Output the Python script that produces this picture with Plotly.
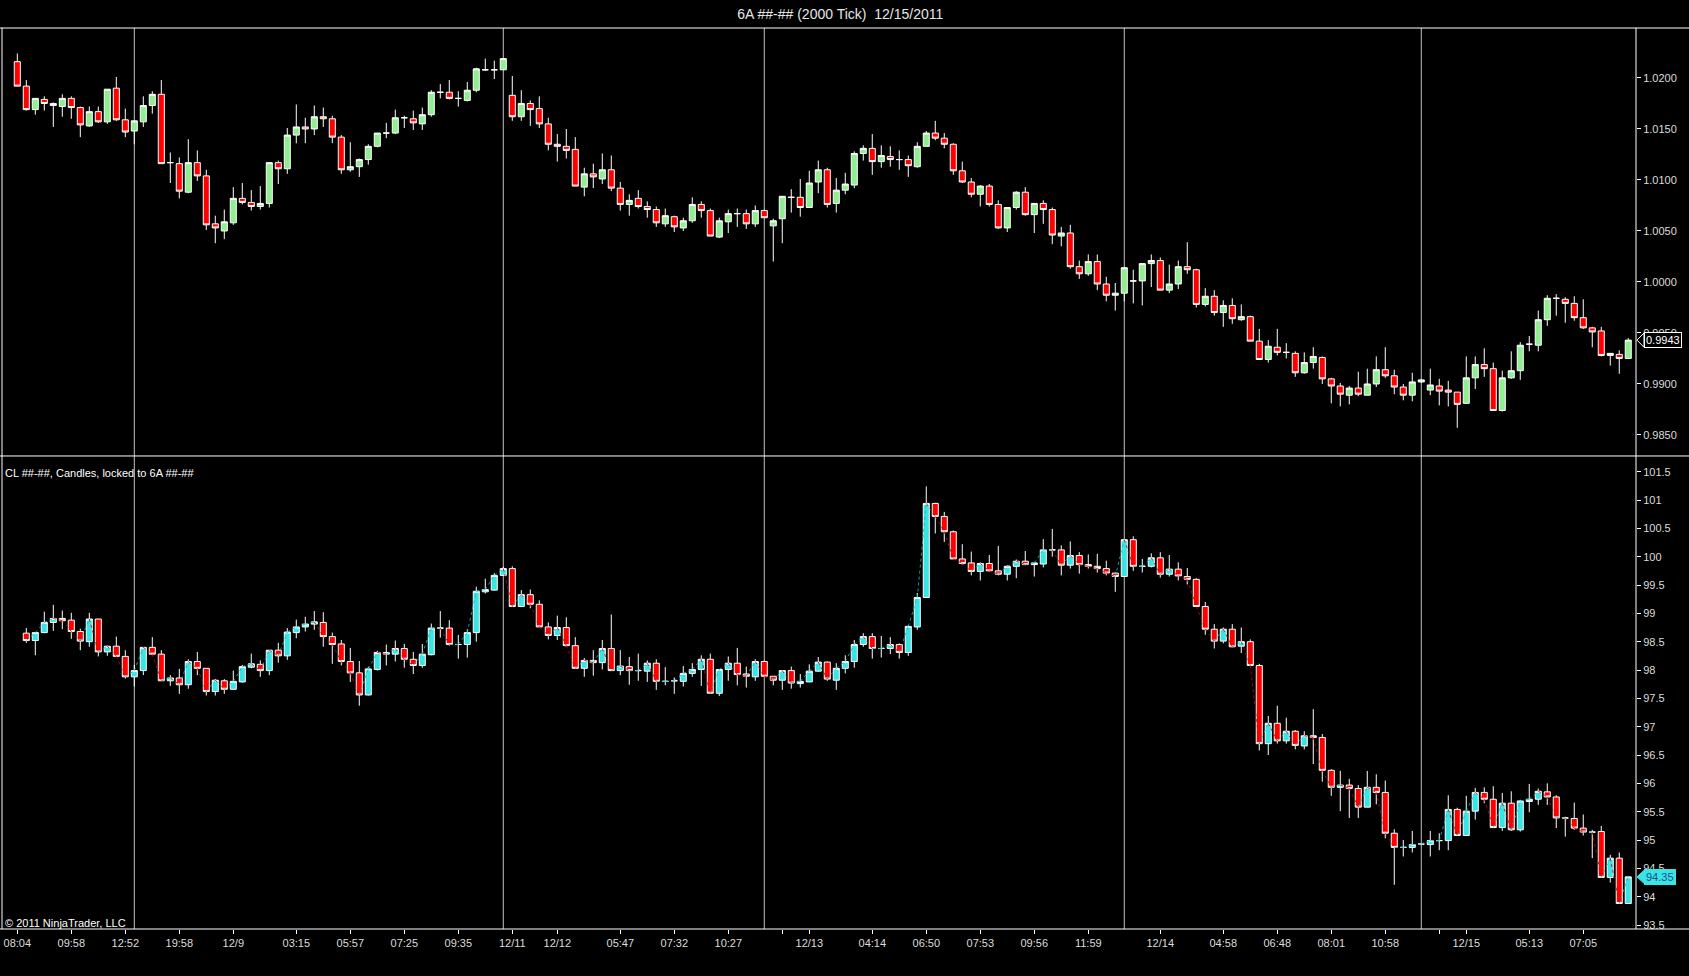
import plotly.graph_objects as go

# ---- 6A (upper panel), one bar per 2000 ticks ----
UP_OPEN = [1.0216, 1.0192, 1.0169, 1.0179, 1.0175, 1.0172, 1.0180, 1.0171, 1.0153, 1.0167,
           1.0157, 1.0190, 1.0159, 1.0148, 1.0157, 1.0173, 1.0184, 1.0117, 1.0116, 1.0088,
           1.0117, 1.0104, 1.0057, 1.0050, 1.0058, 1.0082, 1.0078, 1.0074, 1.0077, 1.0117,
           1.0111, 1.0144, 1.0152, 1.0150, 1.0162, 1.0160, 1.0142, 1.0110, 1.0113, 1.0120,
           1.0133, 1.0146, 1.0146, 1.0161, 1.0160, 1.0155, 1.0164, 1.0186, 1.0186, 1.0180,
           1.0178, 1.0188, 1.0208, 1.0208, 1.0208, 1.0183, 1.0162, 1.0175, 1.0170, 1.0155,
           1.0135, 1.0133, 1.0130, 1.0093, 1.0106, 1.0101, 1.0110, 1.0092, 1.0076, 1.0082,
           1.0074, 1.0071, 1.0057, 1.0064, 1.0053, 1.0060, 1.0076, 1.0070, 1.0044, 1.0059,
           1.0067, 1.0067, 1.0057, 1.0070, 1.0055, 1.0062, 1.0083, 1.0083, 1.0073, 1.0098,
           1.0110, 1.0077, 1.0090, 1.0095, 1.0126, 1.0131, 1.0118, 1.0123, 1.0120, 1.0120,
           1.0113, 1.0133, 1.0146, 1.0141, 1.0135, 1.0109, 1.0098, 1.0086, 1.0094, 1.0076,
           1.0053, 1.0073, 1.0088, 1.0066, 1.0077, 1.0071, 1.0045, 1.0048, 1.0015, 1.0008,
           1.0020, 0.9998, 0.9987, 0.9989, 1.0001, 1.0001, 1.0018, 1.0021, 0.9992, 0.9998,
           1.0015, 1.0012, 0.9978, 0.9986, 0.9970, 0.9977, 0.9963, 0.9966, 0.9942, 0.9924,
           0.9936, 0.9931, 0.9930, 0.9911, 0.9921, 0.9926, 0.9905, 0.9898, 0.9889, 0.9896,
           0.9889, 0.9900, 0.9914, 0.9908, 0.9897, 0.9889, 0.9902, 0.9894, 0.9898, 0.9894,
           0.9892, 0.9881, 0.9906, 0.9919, 0.9915, 0.9874, 0.9906, 0.9913, 0.9939, 0.9938,
           0.9963, 0.9984, 0.9983, 0.9979, 0.9965, 0.9955, 0.9952, 0.9928, 0.9929, 0.9925]
UP_HIGH = [1.0224, 1.0198, 1.0180, 1.0182, 1.0176, 1.0184, 1.0182, 1.0172, 1.0172, 1.0172,
           1.0189, 1.0201, 1.0170, 1.0158, 1.0182, 1.0187, 1.0198, 1.0127, 1.0122, 1.0140,
           1.0129, 1.0110, 1.0065, 1.0071, 1.0093, 1.0097, 1.0090, 1.0094, 1.0117, 1.0119,
           1.0151, 1.0174, 1.0161, 1.0173, 1.0171, 1.0163, 1.0144, 1.0137, 1.0121, 1.0135,
           1.0146, 1.0156, 1.0169, 1.0163, 1.0168, 1.0171, 1.0188, 1.0194, 1.0198, 1.0187,
           1.0196, 1.0210, 1.0219, 1.0217, 1.0219, 1.0202, 1.0188, 1.0178, 1.0182, 1.0161,
           1.0145, 1.0150, 1.0142, 1.0112, 1.0116, 1.0126, 1.0124, 1.0098, 1.0086, 1.0090,
           1.0079, 1.0074, 1.0072, 1.0065, 1.0063, 1.0083, 1.0079, 1.0072, 1.0063, 1.0071,
           1.0072, 1.0071, 1.0075, 1.0071, 1.0062, 1.0084, 1.0091, 1.0101, 1.0109, 1.0119,
           1.0112, 1.0102, 1.0107, 1.0128, 1.0134, 1.0145, 1.0134, 1.0133, 1.0129, 1.0124,
           1.0137, 1.0148, 1.0158, 1.0146, 1.0136, 1.0118, 1.0102, 1.0095, 1.0096, 1.0080,
           1.0073, 1.0089, 1.0093, 1.0077, 1.0080, 1.0073, 1.0054, 1.0056, 1.0021, 1.0027,
           1.0027, 1.0005, 0.9999, 1.0014, 1.0012, 1.0018, 1.0027, 1.0024, 1.0017, 1.0021,
           1.0039, 1.0013, 0.9994, 0.9992, 0.9982, 0.9984, 0.9978, 0.9967, 0.9954, 0.9943,
           0.9954, 0.9940, 0.9932, 0.9931, 0.9936, 0.9927, 0.9906, 0.9901, 0.9898, 0.9912,
           0.9915, 0.9927, 0.9936, 0.9914, 0.9900, 0.9911, 0.9905, 0.9915, 0.9905, 0.9903,
           0.9892, 0.9927, 0.9927, 0.9935, 0.9921, 0.9913, 0.9932, 0.9941, 0.9947, 0.9972,
           0.9987, 0.9988, 0.9985, 0.9986, 0.9983, 0.9956, 0.9956, 0.9930, 0.9933, 0.9945]
UP_LOW = [1.0192, 1.0168, 1.0164, 1.0168, 1.0152, 1.0162, 1.0160, 1.0142, 1.0152, 1.0156,
          1.0155, 1.0158, 1.0142, 1.0135, 1.0152, 1.0165, 1.0116, 1.0097, 1.0082, 1.0087,
          1.0099, 1.0051, 1.0038, 1.0042, 1.0056, 1.0076, 1.0070, 1.0071, 1.0073, 1.0096,
          1.0106, 1.0136, 1.0136, 1.0144, 1.0152, 1.0136, 1.0106, 1.0108, 1.0103, 1.0115,
          1.0132, 1.0141, 1.0145, 1.0151, 1.0149, 1.0149, 1.0162, 1.0180, 1.0179, 1.0172,
          1.0177, 1.0186, 1.0207, 1.0199, 1.0208, 1.0158, 1.0158, 1.0153, 1.0151, 1.0129,
          1.0118, 1.0121, 1.0094, 1.0084, 1.0092, 1.0096, 1.0089, 1.0070, 1.0065, 1.0072,
          1.0063, 1.0054, 1.0054, 1.0049, 1.0050, 1.0058, 1.0063, 1.0045, 1.0043, 1.0048,
          1.0054, 1.0052, 1.0054, 1.0063, 1.0020, 1.0038, 1.0068, 1.0064, 1.0073, 1.0087,
          1.0073, 1.0068, 1.0086, 1.0092, 1.0119, 1.0105, 1.0112, 1.0113, 1.0110, 1.0103,
          1.0112, 1.0133, 1.0139, 1.0131, 1.0105, 1.0097, 1.0083, 1.0074, 1.0074, 1.0052,
          1.0049, 1.0071, 1.0065, 1.0048, 1.0057, 1.0037, 1.0035, 1.0013, 1.0003, 1.0006,
          0.9992, 0.9981, 0.9972, 0.9981, 0.9979, 0.9977, 0.9995, 0.9992, 0.9989, 0.9993,
          1.0008, 0.9975, 0.9976, 0.9967, 0.9956, 0.9959, 0.9962, 0.9942, 0.9924, 0.9921,
          0.9928, 0.9925, 0.9907, 0.9910, 0.9915, 0.9900, 0.9881, 0.9878, 0.9880, 0.9888,
          0.9889, 0.9897, 0.9906, 0.9890, 0.9884, 0.9883, 0.9901, 0.9889, 0.9879, 0.9878,
          0.9857, 0.9881, 0.9895, 0.9907, 0.9874, 0.9873, 0.9905, 0.9904, 0.9932, 0.9932,
          0.9957, 0.9967, 0.9960, 0.9962, 0.9954, 0.9936, 0.9927, 0.9918, 0.9910, 0.9925]
UP_CLOSE = [1.0192, 1.0169, 1.0180, 1.0175, 1.0173, 1.0180, 1.0171, 1.0154, 1.0167, 1.0157,
            1.0189, 1.0159, 1.0147, 1.0158, 1.0173, 1.0184, 1.0116, 1.0117, 1.0089, 1.0117,
            1.0104, 1.0056, 1.0053, 1.0059, 1.0082, 1.0078, 1.0074, 1.0077, 1.0117, 1.0111,
            1.0144, 1.0152, 1.0150, 1.0162, 1.0160, 1.0142, 1.0110, 1.0113, 1.0120, 1.0133,
            1.0146, 1.0146, 1.0161, 1.0161, 1.0156, 1.0164, 1.0186, 1.0186, 1.0180, 1.0180,
            1.0188, 1.0209, 1.0208, 1.0208, 1.0219, 1.0162, 1.0175, 1.0169, 1.0155, 1.0135,
            1.0133, 1.0129, 1.0094, 1.0106, 1.0103, 1.0110, 1.0092, 1.0076, 1.0080, 1.0074,
            1.0071, 1.0058, 1.0065, 1.0054, 1.0060, 1.0076, 1.0070, 1.0045, 1.0060, 1.0067,
            1.0067, 1.0057, 1.0070, 1.0063, 1.0060, 1.0084, 1.0083, 1.0073, 1.0097, 1.0110,
            1.0076, 1.0090, 1.0096, 1.0126, 1.0131, 1.0118, 1.0124, 1.0120, 1.0120, 1.0114,
            1.0133, 1.0146, 1.0141, 1.0135, 1.0109, 1.0098, 1.0086, 1.0094, 1.0076, 1.0053,
            1.0073, 1.0088, 1.0066, 1.0077, 1.0071, 1.0046, 1.0048, 1.0015, 1.0008, 1.0020,
            0.9998, 0.9987, 0.9989, 1.0014, 1.0001, 1.0018, 1.0021, 0.9992, 0.9998, 1.0015,
            1.0012, 0.9978, 0.9986, 0.9970, 0.9977, 0.9964, 0.9966, 0.9942, 0.9924, 0.9937,
            0.9931, 0.9931, 0.9911, 0.9921, 0.9927, 0.9905, 0.9898, 0.9890, 0.9896, 0.9890,
            0.9900, 0.9914, 0.9908, 0.9897, 0.9889, 0.9902, 0.9904, 0.9899, 0.9893, 0.9892,
            0.9880, 0.9906, 0.9919, 0.9915, 0.9874, 0.9906, 0.9913, 0.9938, 0.9939, 0.9963,
            0.9984, 0.9984, 0.9979, 0.9965, 0.9955, 0.9951, 0.9928, 0.9930, 0.9925, 0.9943]

# ---- CL (lower panel), locked to the 6A bars, starts on the 2nd bar ----
CL_OPEN = [98.65, 98.52, 98.66, 98.84, 98.91, 98.88, 98.68, 98.50, 98.90, 98.32,
           98.42, 98.24, 97.88, 97.99, 98.40, 98.28, 97.81, 97.86, 97.74, 98.15,
           98.03, 97.62, 97.81, 97.66, 97.79, 98.05, 98.10, 97.99, 98.35, 98.25,
           98.66, 98.76, 98.81, 98.84, 98.59, 98.46, 98.15, 97.95, 97.56, 98.01,
           98.31, 98.28, 98.38, 98.19, 98.08, 98.27, 98.74, 98.74, 98.45, 98.45,
           98.66, 99.38, 99.41, 99.67, 99.79, 99.12, 99.33, 99.16, 98.76, 98.61,
           98.75, 98.43, 98.03, 98.17, 98.13, 98.38, 97.99, 98.06, 97.99, 97.98,
           98.12, 97.80, 97.81, 97.80, 97.94, 98.01, 98.19, 97.59, 98.01, 98.12,
           97.93, 97.88, 98.15, 97.89, 97.82, 97.99, 97.76, 97.79, 97.98, 98.14,
           97.82, 98.03, 98.15, 98.45, 98.59, 98.38, 98.38, 98.45, 98.31, 98.76,
           99.28, 100.94, 100.71, 100.44, 99.96, 99.89, 99.74, 99.88, 99.75, 99.69,
           99.83, 99.92, 99.86, 99.87, 100.12, 100.12, 99.85, 100.02, 99.86, 99.83,
           99.79, 99.71, 99.65, 100.30, 99.83, 99.83, 99.98, 99.69, 99.78, 99.65,
           99.60, 99.12, 98.72, 98.51, 98.72, 98.42, 98.50, 98.08, 96.70, 97.06,
           96.75, 96.92, 96.66, 96.84, 96.81, 96.23, 95.93, 95.97, 95.91, 95.58,
           95.93, 95.84, 95.12, 94.87, 94.87, 94.93, 94.92, 94.99, 94.99, 95.54,
           95.08, 95.51, 95.84, 95.72, 95.22, 95.65, 95.18, 95.68, 95.72, 95.85,
           95.76, 95.39, 95.38, 95.21, 95.14, 95.15, 94.34, 94.68, 93.88]
CL_HIGH = [98.74, 98.66, 99.03, 99.15, 99.05, 99.01, 98.73, 99.01, 98.90, 98.43,
           98.59, 98.35, 98.09, 98.40, 98.58, 98.35, 97.91, 98.02, 98.19, 98.32,
           98.03, 97.84, 97.84, 97.99, 98.09, 98.29, 98.17, 98.35, 98.48, 98.74,
           98.89, 98.94, 99.04, 99.02, 98.66, 98.53, 98.39, 98.16, 98.06, 98.34,
           98.45, 98.52, 98.46, 98.32, 98.46, 98.82, 99.04, 98.88, 98.62, 98.72,
           99.47, 99.61, 99.71, 99.82, 99.83, 99.41, 99.42, 99.23, 98.84, 98.96,
           98.93, 98.58, 98.21, 98.35, 98.53, 98.98, 98.35, 98.23, 98.29, 98.17,
           98.19, 98.05, 97.87, 98.07, 98.12, 98.26, 98.29, 98.01, 98.24, 98.39,
           98.06, 98.19, 98.17, 97.89, 98.00, 98.06, 97.93, 98.10, 98.23, 98.15,
           98.12, 98.26, 98.53, 98.65, 98.65, 98.60, 98.58, 98.47, 98.79, 99.36,
           101.24, 100.95, 100.79, 100.46, 100.22, 100.09, 99.90, 100.03, 100.19, 99.85,
           99.95, 100.10, 99.89, 100.31, 100.49, 100.20, 100.27, 100.08, 100.04, 100.05,
           99.93, 99.72, 100.30, 100.36, 99.96, 100.06, 100.08, 100.03, 99.90, 99.80,
           99.62, 99.20, 98.81, 98.75, 98.81, 98.75, 98.54, 98.11, 97.19, 97.37,
           97.16, 96.94, 96.92, 97.31, 96.87, 96.25, 96.22, 96.08, 95.97, 96.22,
           96.16, 96.05, 95.19, 95.00, 95.16, 94.94, 95.16, 95.12, 95.79, 95.57,
           95.78, 95.92, 95.93, 95.95, 95.83, 95.86, 95.71, 95.99, 95.91, 96.00,
           95.79, 95.41, 95.66, 95.45, 95.18, 95.25, 94.74, 94.78, 94.35]
CL_LOW = [98.48, 98.26, 98.65, 98.69, 98.72, 98.55, 98.35, 98.41, 98.24, 98.25,
          98.23, 97.85, 97.71, 97.91, 98.26, 97.81, 97.72, 97.58, 97.67, 97.91,
          97.55, 97.55, 97.58, 97.65, 97.78, 98.03, 97.88, 97.91, 98.13, 98.18,
          98.56, 98.68, 98.71, 98.41, 98.11, 98.08, 97.79, 97.37, 97.55, 97.99,
          98.08, 98.15, 98.04, 97.93, 98.04, 98.26, 98.57, 98.43, 98.20, 98.22,
          98.50, 99.35, 99.40, 99.66, 99.12, 99.11, 99.09, 98.76, 98.54, 98.53,
          98.41, 98.02, 97.88, 97.90, 98.01, 97.98, 97.91, 97.74, 97.81, 97.79,
          97.65, 97.73, 97.58, 97.71, 97.88, 97.72, 97.59, 97.54, 97.81, 97.73,
          97.69, 97.81, 97.89, 97.73, 97.65, 97.67, 97.69, 97.79, 97.97, 97.81,
          97.65, 97.94, 98.04, 98.41, 98.20, 98.22, 98.28, 98.20, 98.25, 98.71,
          99.27, 100.41, 100.26, 99.96, 99.86, 99.67, 99.58, 99.74, 99.67, 99.58,
          99.62, 99.85, 99.65, 99.81, 100.00, 99.67, 99.79, 99.70, 99.79, 99.72,
          99.67, 99.38, 99.65, 99.75, 99.72, 99.81, 99.63, 99.65, 99.58, 99.51,
          99.11, 98.62, 98.38, 98.47, 98.40, 98.30, 98.08, 96.58, 96.50, 96.70,
          96.70, 96.60, 96.60, 96.34, 96.03, 95.78, 95.51, 95.39, 95.39, 95.58,
          95.63, 95.03, 94.21, 94.71, 94.78, 94.92, 94.71, 94.82, 94.82, 95.08,
          95.08, 95.36, 95.65, 95.21, 95.16, 95.16, 95.15, 95.49, 95.62, 95.62,
          95.21, 95.06, 95.18, 95.08, 94.68, 94.33, 94.25, 93.88, 93.88]
CL_CLOSE = [98.52, 98.66, 98.84, 98.91, 98.87, 98.68, 98.51, 98.90, 98.32, 98.42,
            98.24, 97.88, 97.99, 98.40, 98.28, 97.81, 97.86, 97.74, 98.15, 98.03,
            97.62, 97.82, 97.66, 97.80, 98.06, 98.11, 97.99, 98.35, 98.25, 98.67,
            98.76, 98.81, 98.85, 98.59, 98.45, 98.15, 97.95, 97.56, 98.02, 98.31,
            98.28, 98.38, 98.19, 98.08, 98.28, 98.74, 98.74, 98.45, 98.45, 98.66,
            99.39, 99.42, 99.67, 99.79, 99.12, 99.33, 99.16, 98.76, 98.61, 98.75,
            98.43, 98.03, 98.17, 98.13, 98.38, 97.99, 98.07, 97.99, 97.99, 98.12,
            97.80, 97.80, 97.81, 97.94, 98.01, 98.19, 97.59, 98.01, 98.12, 97.92,
            97.89, 98.15, 97.89, 97.82, 97.99, 97.77, 97.80, 97.98, 98.14, 97.84,
            98.03, 98.15, 98.45, 98.59, 98.38, 98.38, 98.45, 98.31, 98.77, 99.28,
            100.94, 100.71, 100.44, 99.96, 99.88, 99.74, 99.88, 99.75, 99.69, 99.83,
            99.92, 99.86, 99.89, 100.12, 100.12, 99.85, 100.02, 99.86, 99.83, 99.79,
            99.71, 99.65, 100.30, 99.83, 99.83, 99.98, 99.69, 99.78, 99.66, 99.60,
            99.12, 98.72, 98.51, 98.72, 98.41, 98.50, 98.08, 96.70, 97.06, 96.75,
            96.92, 96.67, 96.84, 96.81, 96.23, 95.93, 95.97, 95.91, 95.58, 95.93,
            95.84, 95.12, 94.87, 94.87, 94.92, 94.93, 94.99, 94.99, 95.54, 95.08,
            95.51, 95.84, 95.72, 95.22, 95.65, 95.18, 95.69, 95.72, 95.86, 95.76,
            95.39, 95.39, 95.21, 95.14, 95.14, 94.34, 94.68, 93.88, 94.35]

# session breaks (bar index) and x axis labels (bar index -> text)
SESSION_BREAKS = [13, 54, 83, 123, 156]
TICK_BARS = [0, 6, 12, 18, 24, 31, 37, 43, 49, 55, 60, 67, 73, 79, 85,
             88, 95, 101, 107, 113, 119, 127, 134, 140, 146, 152, 158, 161, 168, 174]
TICK_TEXT = ["08:04", "09:58", "12:52", "19:58", "12/9", "03:15", "05:57", "07:25",
             "09:35", "12/11", "12/12", "05:47", "07:32", "10:27", "", "12/13",
             "04:14", "06:50", "07:53", "09:56", "11:59", "12/14", "04:58", "06:48",
             "08:01", "10:58", "", "12/15", "05:13", "07:05"]
UP_TICKS = [0.985, 0.990, 0.995, 1.000, 1.005, 1.010, 1.015, 1.020]
CL_TICKS = [93.5, 94, 94.5, 95, 95.5, 96, 96.5, 97, 97.5, 98, 98.5, 99, 99.5,
            100, 100.5, 101, 101.5]

FONT = "Liberation Sans, Arial, sans-serif"
LABEL_GREY = "#DCDCDC"
CYAN = "#38E4E4"

up_x = list(range(len(UP_CLOSE)))
cl_x = list(range(1, len(CL_CLOSE) + 1))

fig = go.Figure()

# dotted close line under the CL candles, cyan going up and red going down
seg_up_x, seg_up_y, seg_dn_x, seg_dn_y = [], [], [], []
for k in range(1, len(CL_CLOSE)):
    xs = [cl_x[k - 1], cl_x[k], None]
    ys = [CL_CLOSE[k - 1], CL_CLOSE[k], None]
    if CL_CLOSE[k] >= CL_CLOSE[k - 1]:
        seg_up_x += xs
        seg_up_y += ys
    else:
        seg_dn_x += xs
        seg_dn_y += ys
fig.add_trace(go.Scatter(x=seg_up_x, y=seg_up_y, mode='lines', xaxis='x2', yaxis='y2',
                         line=dict(color='rgba(0,190,190,0.85)', width=1, dash='dot'),
                         hoverinfo='skip', showlegend=False))
fig.add_trace(go.Scatter(x=seg_dn_x, y=seg_dn_y, mode='lines', xaxis='x2', yaxis='y2',
                         line=dict(color='rgba(200,0,0,0.85)', width=1, dash='dot'),
                         hoverinfo='skip', showlegend=False))

fig.add_trace(go.Candlestick(
    x=up_x, open=UP_OPEN, high=UP_HIGH, low=UP_LOW, close=UP_CLOSE,
    xaxis='x', yaxis='y',
    increasing=dict(line=dict(color='white', width=1), fillcolor='#90EE90'),
    decreasing=dict(line=dict(color='white', width=1), fillcolor='#FF0000'),
    hoverinfo='skip', showlegend=False))

fig.add_trace(go.Candlestick(
    x=cl_x, open=CL_OPEN, high=CL_HIGH, low=CL_LOW, close=CL_CLOSE,
    xaxis='x2', yaxis='y2',
    increasing=dict(line=dict(color='white', width=1), fillcolor=CYAN),
    decreasing=dict(line=dict(color='white', width=1), fillcolor='#FF0000'),
    hoverinfo='skip', showlegend=False))

split = 0.525
x_range = [-1.7, 179.86]
tick_font = dict(family=FONT, size=11, color=LABEL_GREY)

fig.update_layout(
    width=1689, height=976,
    margin=dict(l=2, r=53, t=28, b=47),
    paper_bgcolor='black', plot_bgcolor='black',
    font=dict(family=FONT, color=LABEL_GREY),
    showlegend=False,
    hovermode=False,
    boxgap=0.04,
    title=dict(text="6A ##-## (2000 Tick)  12/15/2011", x=0.4975, xref='container',
               y=0.986, yref='container', xanchor='center', yanchor='middle',
               font=dict(family=FONT, size=14, color='#E6E6E6')),
    xaxis=dict(domain=[0, 1], anchor='y', range=x_range, showticklabels=False,
               showgrid=False, zeroline=False, ticks='', rangeslider=dict(visible=False)),
    xaxis2=dict(domain=[0, 1], anchor='y2', matches='x', range=x_range,
                tickmode='array', tickvals=TICK_BARS, ticktext=TICK_TEXT,
                ticks='outside', ticklen=4, tickcolor='white', tickfont=tick_font,
                showgrid=False, zeroline=False, rangeslider=dict(visible=False)),
    yaxis=dict(domain=[split, 1], anchor='x', side='right', range=[0.98294, 1.02490],
               tickmode='array', tickvals=UP_TICKS,
               ticktext=[f"{v:.4f}" for v in UP_TICKS],
               ticks='outside', ticklen=4, tickcolor='white', tickfont=tick_font,
               showgrid=False, zeroline=False),
    yaxis2=dict(domain=[0, split], anchor='x2', side='right', range=[93.43, 101.777],
                tickmode='array', tickvals=CL_TICKS,
                ticktext=[f"{v:g}" for v in CL_TICKS],
                ticks='outside', ticklen=4, tickcolor='white', tickfont=tick_font,
                showgrid=False, zeroline=False),
)

# frame: full-width horizontal rules, left edge and the price-axis line
full_l, full_r = -0.0013, 1.033
shapes = []
for yy in (0, split, 1):
    shapes.append(dict(type='line', xref='paper', yref='paper', x0=full_l, x1=full_r,
                       y0=yy, y1=yy, line=dict(color='white', width=1)))
for xx in (0, 1):
    shapes.append(dict(type='line', xref='paper', yref='paper', x0=xx, x1=xx,
                       y0=0, y1=1, line=dict(color='white', width=1)))
for b in SESSION_BREAKS:
    shapes.append(dict(type='line', xref='x', yref='paper', x0=b, x1=b, y0=0, y1=1,
                       layer='below', line=dict(color='#C4C4C4', width=1)))

# last-price markers on the right axis
up_last = UP_CLOSE[-1]
cl_last = CL_CLOSE[-1]
shapes.append(dict(type='path', xref='paper', yref='y', fillcolor='black',
                   line=dict(color='white', width=1),
                   path=f"M 1.0006 {up_last} L 1.0049 {up_last + 0.0007} "
                        f"L 1.0049 {up_last - 0.0007} Z"))
shapes.append(dict(type='path', xref='paper', yref='y2', fillcolor=CYAN,
                   line=dict(color=CYAN, width=1),
                   path=f"M 1.0006 {cl_last} L 1.0055 {cl_last + 0.13} "
                        f"L 1.0055 {cl_last - 0.13} Z"))
fig.update_layout(shapes=shapes)

fig.add_annotation(text=f"{up_last:.4f}", xref='paper', yref='y', x=1.0049, y=up_last,
                   xanchor='left', yanchor='middle', showarrow=False,
                   font=dict(family=FONT, size=11, color='white'),
                   bgcolor='black', bordercolor='white', borderwidth=1, borderpad=1)
fig.add_annotation(text=f"{cl_last:.2f}", xref='paper', yref='y2', x=1.0052, y=cl_last,
                   xanchor='left', yanchor='middle', showarrow=False,
                   font=dict(family=FONT, size=11, color='#1F4E8C'),
                   bgcolor=CYAN, bordercolor=CYAN, borderwidth=1, borderpad=1)
fig.add_annotation(text="CL ##-##, Candles, locked to 6A ##-##", xref='paper', yref='paper',
                   x=0.0006, y=0.506, xanchor='left', yanchor='middle', showarrow=False,
                   font=dict(family=FONT, size=11, color='white'))
fig.add_annotation(text="© 2011 NinjaTrader, LLC", xref='paper', yref='paper',
                   x=0.0006, y=0.007, xanchor='left', yanchor='middle', showarrow=False,
                   font=dict(family=FONT, size=11, color='white'))

fig.write_html("out.html", config={'displayModeBar': False},
               post_script="document.body.style.margin='0';"
                           "document.body.style.background='black';")
